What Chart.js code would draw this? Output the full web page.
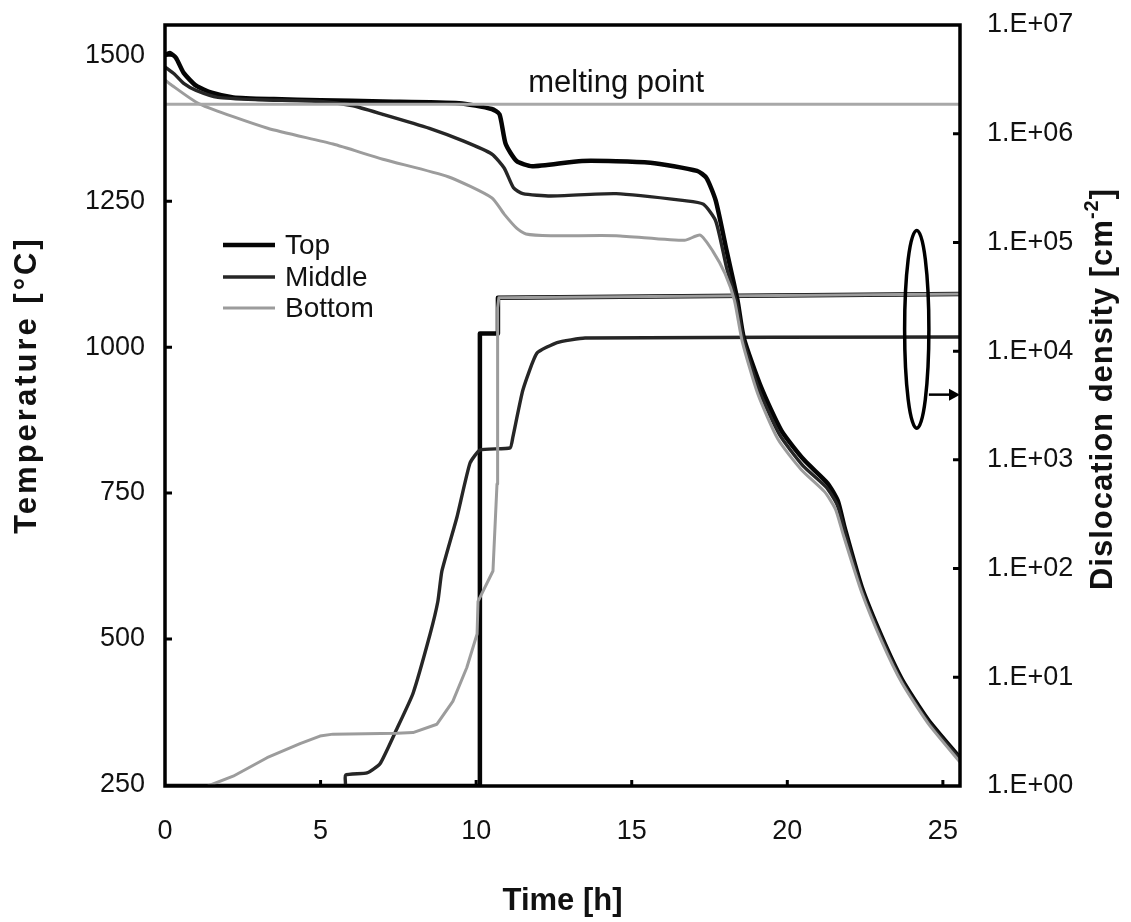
<!DOCTYPE html>
<html>
<head>
<meta charset="utf-8">
<script src="https://cdn.jsdelivr.net/npm/chart.js@4.4.1/dist/chart.umd.min.js"></script>
<style>
  html, body { margin: 0; padding: 0; background: #ffffff; }
  #wrap { width: 1131px; height: 922px; }
</style>
</head>
<body>
<div id="wrap"><canvas id="c" width="1131" height="922"></canvas></div>
<script>
// ---------- tick labels ----------
const timeTicks = [0, 5, 10, 15, 20, 25];
const tempTicks = [250, 500, 750, 1000, 1250, 1500];
const densTicks = [1, 10, 100, 1e3, 1e4, 1e5, 1e6, 1e7];
const seriesNames = ['Top', 'Middle', 'Bottom'];

// ---------- temperature [°C] vs time [h] ----------
const tempTopTime = [0, 0.15, 0.35, 0.6, 1.0, 1.5, 2.2, 3.5, 5, 7, 9.45, 10.5, 10.75, 10.95, 11.3, 11.8, 13.4, 15.6, 17.1, 17.4, 17.7, 18.05, 18.4, 18.6, 19.16, 19.81, 20.55, 21.29, 21.62, 21.84, 22.39, 23.04, 23.69, 24.53, 25.55];
const tempTop = [1500, 1504, 1496, 1470, 1448, 1436, 1428, 1425, 1423, 1421, 1418, 1408, 1399, 1348, 1319, 1310, 1319, 1316, 1302, 1290, 1251, 1165, 1080, 1016, 931, 857, 806, 767, 737, 691, 589, 503, 430, 361, 296];

const tempMidTime = [0, 0.3, 0.6, 1.0, 1.7, 3, 5, 6, 7, 8.5, 9.6, 10.5, 10.9, 11.2, 11.5, 12.4, 14.5, 16.7, 17.3, 17.7, 18.05, 18.4, 18.6, 19.1, 19.75, 20.5, 21.25, 21.6, 21.84, 22.39, 23.04, 23.69, 24.53, 25.55];
const tempMid = [1480, 1468, 1452, 1440, 1428, 1424, 1421, 1414, 1399, 1375, 1353, 1331, 1307, 1273, 1263, 1259, 1263, 1251, 1245, 1216, 1136, 1070, 1010, 925, 850, 797, 760, 730, 685, 585, 500, 427, 358, 294];

const tempBotTime = [0, 0.16, 1.1, 3.3, 5.4, 7.0, 9.1, 10.5, 10.9, 11.3, 11.6, 12.4, 14.5, 16.7, 17.2, 17.6, 18.0, 18.3, 18.55, 19.05, 19.7, 20.45, 21.2, 21.55, 21.8, 22.39, 23.04, 23.69, 24.53, 25.55];
const tempBot = [1458, 1451, 1417, 1375, 1348, 1322, 1292, 1256, 1228, 1204, 1194, 1191, 1191, 1183, 1192, 1165, 1126, 1080, 1010, 920, 842, 790, 752, 722, 678, 580, 495, 424, 355, 289];

const meltTime = [0, 25.55];
const meltTemp = [1416, 1416];

// ---------- dislocation density [cm^-2] vs time [h] ----------
const densTopTime = [0, 10.12, 10.12, 10.7, 10.7, 25.55];
const densTop = [1, 1, 1.45e4, 1.45e4, 3.1e4, 3.35e4];

const densMidTime = [0, 5.78, 5.8, 6.49, 6.91, 7.46, 7.97, 8.52, 8.77, 8.9, 9.38, 9.8, 10.12, 11.09, 11.18, 11.5, 11.95, 12.6, 13.5, 25.55];
const densMid = [1, 1, 1.26, 1.32, 1.6, 3.4, 7.1, 25, 50, 95, 295, 930, 1230, 1290, 1620, 4370, 9550, 1.2e4, 1.32e4, 1.35e4];

const densBotTime = [1.38, 2.19, 3.28, 4.34, 4.98, 5.4, 7.46, 7.97, 8.74, 9.25, 9.7, 10.03, 10.06, 10.54, 10.67, 10.68, 10.7, 10.73, 25.55];
const densBot = [1, 1.23, 1.82, 2.45, 2.88, 3.0, 3.05, 3.1, 3.7, 6.0, 12.3, 25, 50, 95, 600, 5000, 2.5e4, 3.1e4, 3.35e4];

// ---------- annotation (ellipse + arrow pointing to right axis) ----------
const ellipseTime = 24.16, ellipseHalfTime = 0.39;
const ellipseDensTop = 1.29e5, ellipseDensBottom = 1.95e3;
const arrowDens = 3980, arrowFromTime = 24.55, arrowToTime = 25.55;
const meltLabel = 'melting point', meltLabelTime = 14.5, meltLabelTemp = 1452;

// ---------- styles ----------
const FAM = '"Liberation Sans", Arial, Helvetica, sans-serif';
const styles = {
  Top:    { color: '#050505', width: 4.5 },
  Middle: { color: '#262626', width: 3.4 },
  Bottom: { color: '#9c9c9c', width: 3.0 }
};

function zip(xs, ys) { return xs.map((x, i) => ({ x: x, y: ys[i] })); }

function ds(label, xs, ys, axis, style, tension) {
  return {
    label: label, data: zip(xs, ys), yAxisID: axis,
    borderColor: style.color, borderWidth: style.width,
    pointRadius: 0, tension: tension, fill: false
  };
}

const datasets = [
  ds('melting point', meltTime, meltTemp, 'y', { color: '#a8a8a8', width: 3 }, 0),
  ds('Bottom', tempBotTime, tempBot, 'y', styles.Bottom, 0.2),
  ds('Middle', tempMidTime, tempMid, 'y', styles.Middle, 0.2),
  ds('Top', tempTopTime, tempTop, 'y', styles.Top, 0.2),
  ds('Bottom ρ', densBotTime, densBot, 'y2', styles.Bottom, 0),
  ds('Middle ρ', densMidTime, densMid, 'y2', styles.Middle, 0.15),
  ds('Top ρ', densTopTime, densTop, 'y2', styles.Top, 0)
];

const decor = {
  id: 'decor',
  afterDatasetsDraw(chart) {
    const { ctx, chartArea: a, scales } = chart;
    const xs = scales.x, ys = scales.y, y2 = scales.y2;
    ctx.save();
    // frame
    ctx.strokeStyle = '#000';
    ctx.lineWidth = 3.5;
    ctx.strokeRect(a.left, a.top, a.right - a.left, a.bottom - a.top);
    // inward ticks
    ctx.lineWidth = 3;
    ctx.beginPath();
    tempTicks.forEach(v => {
      const y = ys.getPixelForValue(v);
      if (y >= a.bottom - 2) return;
      ctx.moveTo(a.left, y); ctx.lineTo(a.left + 7, y);
    });
    densTicks.forEach(v => {
      const y = y2.getPixelForValue(v);
      if (y >= a.bottom - 2 || y <= a.top + 2) return;
      ctx.moveTo(a.right, y); ctx.lineTo(a.right - 7, y);
    });
    timeTicks.forEach(v => {
      const x = xs.getPixelForValue(v);
      if (x <= a.left + 2) return;
      ctx.moveTo(x, a.bottom); ctx.lineTo(x, a.bottom - 6);
    });
    ctx.stroke();

    // melting point label
    ctx.fillStyle = '#111';
    ctx.font = '31px ' + FAM;
    ctx.textAlign = 'center';
    ctx.textBaseline = 'middle';
    ctx.fillText(meltLabel, xs.getPixelForValue(meltLabelTime), ys.getPixelForValue(meltLabelTemp));

    // ellipse + arrow
    const cx = xs.getPixelForValue(ellipseTime);
    const rx = xs.getPixelForValue(ellipseTime + ellipseHalfTime) - cx;
    const yt = y2.getPixelForValue(ellipseDensTop), yb = y2.getPixelForValue(ellipseDensBottom);
    ctx.strokeStyle = '#000';
    ctx.lineWidth = 3.5;
    ctx.beginPath();
    ctx.ellipse(cx, (yt + yb) / 2, rx, (yb - yt) / 2, 0, 0, Math.PI * 2);
    ctx.stroke();
    const ay = y2.getPixelForValue(arrowDens);
    const ax0 = xs.getPixelForValue(arrowFromTime), ax1 = xs.getPixelForValue(arrowToTime);
    ctx.lineWidth = 2.5;
    ctx.beginPath(); ctx.moveTo(ax0, ay); ctx.lineTo(ax1 - 8, ay); ctx.stroke();
    ctx.fillStyle = '#000';
    ctx.beginPath();
    ctx.moveTo(ax1, ay); ctx.lineTo(ax1 - 11, ay - 6); ctx.lineTo(ax1 - 11, ay + 6); ctx.closePath(); ctx.fill();

    // legend
    const rows = [220, 252, 283];
    ctx.font = '28px ' + FAM;
    ctx.textAlign = 'left';
    ctx.textBaseline = 'middle';
    seriesNames.forEach((name, i) => {
      const y = a.top + rows[i];
      const st = styles[name];
      ctx.strokeStyle = st.color;
      ctx.lineWidth = st.width;
      ctx.beginPath(); ctx.moveTo(a.left + 58, y); ctx.lineTo(a.left + 110, y); ctx.stroke();
      ctx.fillStyle = '#111';
      ctx.fillText(name, a.left + 120, y + 1);
    });

    // vertical axis titles (read bottom-to-top)
    ctx.fillStyle = '#111';
    ctx.font = 'bold 31px ' + FAM;
    ctx.textAlign = 'center';
    ctx.textBaseline = 'middle';
    ctx.save();
    ctx.translate(27, 385);
    ctx.rotate(-Math.PI / 2);
    try { ctx.letterSpacing = '3px'; } catch (e) {}
    ctx.fillText('Temperature [°C]', 0, 0);
    ctx.restore();

    ctx.save();
    ctx.translate(1103, 389);
    ctx.rotate(-Math.PI / 2);
    try { ctx.letterSpacing = '1px'; } catch (e) {}
    const t1 = 'Dislocation density [cm', t2 = '-2', t3 = ']';
    ctx.font = 'bold 31px ' + FAM;
    const w1 = ctx.measureText(t1).width, w3 = ctx.measureText(t3).width;
    ctx.font = 'bold 20px ' + FAM;
    const w2 = ctx.measureText(t2).width;
    let sx = -(w1 + w2 + w3) / 2;
    ctx.textAlign = 'left';
    ctx.font = 'bold 31px ' + FAM;
    ctx.fillText(t1, sx, 0); sx += w1;
    ctx.font = 'bold 20px ' + FAM;
    ctx.fillText(t2, sx, -11); sx += w2;
    ctx.font = 'bold 31px ' + FAM;
    ctx.fillText(t3, sx, 0);
    ctx.restore();

    ctx.restore();
  }
};

const tickFont = { family: FAM, size: 27 };

function fixWidth(w) {
  return s => { s.width = w; s.paddingTop = 0; s.paddingBottom = 0; };
}

new Chart(document.getElementById('c'), {
  type: 'line',
  data: { datasets: datasets },
  plugins: [decor],
  options: {
    responsive: false,
    animation: false,
    devicePixelRatio: 1,
    layout: { padding: { top: 25, left: 0, right: 0, bottom: 0 } },
    plugins: { legend: { display: false }, tooltip: { enabled: false } },
    elements: { line: { borderCapStyle: 'butt', borderJoinStyle: 'round' } },
    scales: {
      x: {
        type: 'linear', min: 0, max: 25.55,
        afterBuildTicks: s => { s.ticks = timeTicks.map(v => ({ value: v })); },
        afterFit: s => { s.height = 136; s.paddingLeft = 0; s.paddingRight = 0; },
        grid: { display: false, drawTicks: false },
        border: { display: false },
        ticks: { font: tickFont, color: '#111', padding: 29, maxRotation: 0, autoSkip: false, callback: v => String(v) },
        title: { display: true, text: 'Time [h]', font: { family: FAM, size: 31, weight: 'bold' }, color: '#111', padding: { top: 0, bottom: 2 } }
      },
      y: {
        type: 'linear', position: 'left', min: 248, max: 1552,
        afterBuildTicks: s => { s.ticks = tempTicks.map(v => ({ value: v })); },
        afterFit: fixWidth(165),
        grid: { display: false, drawTicks: false },
        border: { display: false },
        ticks: { font: tickFont, color: '#111', padding: 20, autoSkip: false, callback: v => String(v) }
      },
      y2: {
        type: 'logarithmic', position: 'right', min: 1, max: 1e7,
        afterBuildTicks: s => { s.ticks = densTicks.map(v => ({ value: v })); },
        afterFit: fixWidth(171),
        grid: { display: false, drawTicks: false },
        border: { display: false },
        ticks: {
          font: tickFont, color: '#111', padding: 27, autoSkip: false,
          callback: v => '1.E+' + String(Math.round(Math.log10(v))).padStart(2, '0')
        }
      }
    }
  }
});
</script>
</body>
</html>
